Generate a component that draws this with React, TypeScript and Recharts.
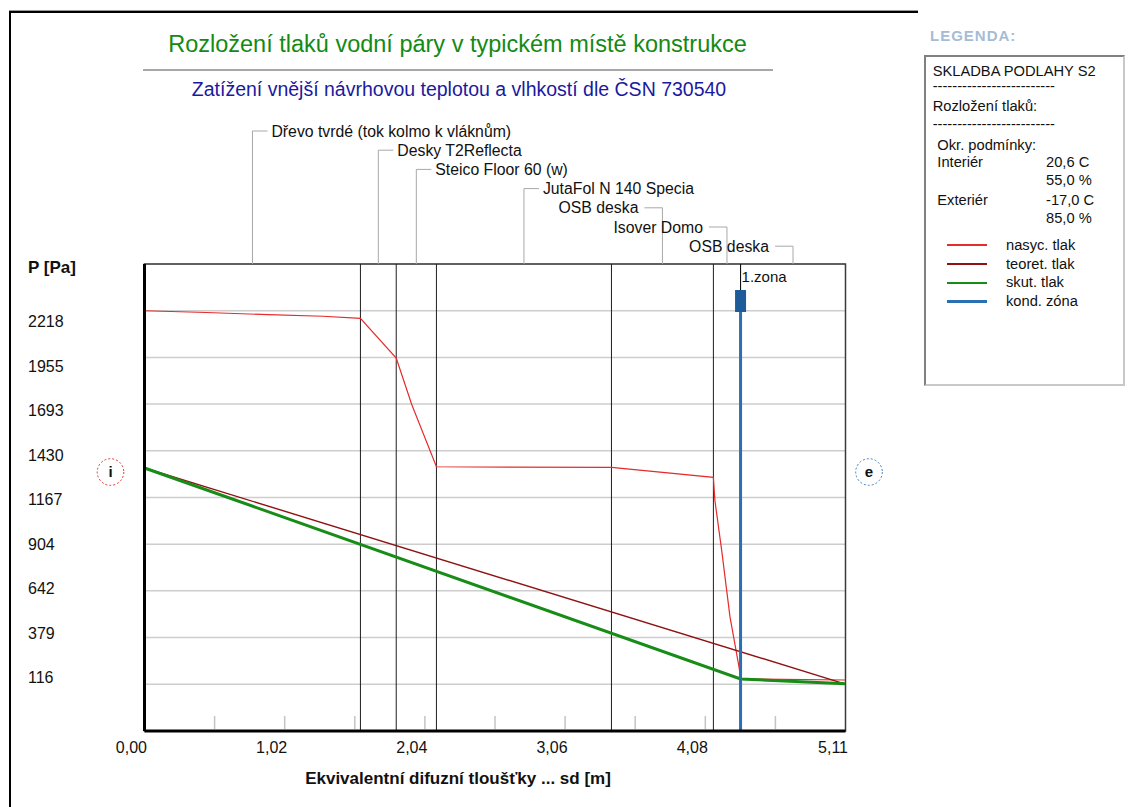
import React from 'react';
import {
  ComposedChart,
  Line,
  XAxis,
  YAxis,
  CartesianGrid,
  ReferenceLine,
  ReferenceArea,
  ReferenceDot,
} from 'recharts';

const FONT = '"Liberation Sans", Arial, sans-serif';

const RED = '#e52b2b';
const DARK_RED = '#8f1111';
const GREEN = '#178c17';
const BLUE = '#2b6fb3';

// layers of the construction, sd boundaries [m]
const layerNames = [
  'Dřevo tvrdé (tok kolmo k vláknům)',
  'Desky T2Reflecta',
  'Steico Floor 60 (w)',
  'JutaFol N 140 Specia',
  'OSB deska',
  'Isover Domo',
  'OSB deska',
];
const layerBounds = [0, 1.574, 1.835, 2.128, 3.404, 4.147, 4.345, 5.11];

// nasyc. tlak (saturation pressure)
const satX = [0, 0.45, 0.9, 1.3, 1.574, 1.835, 1.948, 2.128, 3.404, 4.147, 4.158, 4.207, 4.268, 4.335, 4.345, 5.11];
const satP = [2218, 2208, 2196, 2187, 2175, 1952, 1690, 1340, 1336, 1280, 1150, 872, 495, 208, 146, 140];

// teoret. tlak
const theoX = [0, 5.11];
const theoP = [1333, 117];

// skut. tlak
const realX = [0, 4.345, 5.11];
const realP = [1333, 146, 119];

const zoneX = 4.345;
const zoneLabel = '1.zona';

const yTicks = [116, 379, 642, 904, 1167, 1430, 1693, 1955, 2218];
const xTicks = [0, 0.511, 1.022, 1.533, 2.044, 2.555, 3.066, 3.577, 4.088, 4.599, 5.11];
const xTickLabels = ['0,00', '', '1,02', '', '2,04', '', '3,06', '', '4,08', '', '5,11'];

const conditions = [
  ['Interiér', '20,6 C', '55,0 %'],
  ['Exteriér', '-17,0 C', '85,0 %'],
];
const legendNames = ['nasyc. tlak', 'teoret. tlak', 'skut. tlak', 'kond. zóna'];
const legendColors = [RED, DARK_RED, GREEN, BLUE];

const toPoints = (xs: number[], ps: number[]) => xs.map((x, i) => ({ x, p: ps[i] }));
const satData = toPoints(satX, satP);
const theoData = toPoints(theoX, theoP);
const realData = toPoints(realX, realP);

const renderXTick = (props: any) => {
  const { x, y, payload } = props;
  const i = xTicks.indexOf(payload.value);
  const label = xTickLabels[i] || '';
  return (
    <g>
      {i > 0 && i < xTicks.length - 1 && (
        <line x1={x} y1={y - 2} x2={x} y2={y - 15} stroke="#c4c4c4" strokeWidth={1.5} />
      )}
      {label && (
        <text x={x + 2.5} y={y + 21.5} textAnchor="end" fontSize={16} fontFamily={FONT} fill="#111">
          {label}
        </text>
      )}
    </g>
  );
};

const renderYTick = (props: any) => {
  const { x, y, payload } = props;
  const k = (2218 - payload.value) / 262.75;
  const dy = 10.7 - 2.125 * k;
  return (
    <text x={x - 116.5} y={y + dy + 5.5} textAnchor="start" fontSize={16} fontFamily={FONT} fill="#111">
      {payload.value}
    </text>
  );
};

const layerShape = (i: number) => (props: any) => {
  const x = props.x1;
  const top = Math.min(props.y1, props.y2);
  const rowY = top - 133 + i * 19.2;
  const right = i < 4;
  const stubEnd = right ? x + 15 : x - 18;
  return (
    <g>
      <polyline
        points={`${x},${top} ${x},${rowY} ${stubEnd},${rowY}`}
        fill="none"
        stroke="#a8a8a8"
        strokeWidth={1}
      />
      <text
        x={right ? x + 19 : x - 24}
        y={rowY + 5.5}
        textAnchor={right ? 'start' : 'end'}
        fontSize={15.8}
        fontFamily={FONT}
        fill="#111"
      >
        {layerNames[i]}
      </text>
    </g>
  );
};

const zoneShape = (props: any) => {
  const x = props.x1;
  const top = Math.min(props.y1, props.y2);
  const bottom = Math.max(props.y1, props.y2);
  return (
    <g>
      <line x1={x} y1={top} x2={x} y2={top + 26} stroke="#111" strokeWidth={1} />
      <line x1={x} y1={top + 26} x2={x} y2={bottom} stroke={BLUE} strokeWidth={3} />
      <rect x={x - 5.5} y={top + 26} width={11} height={22} fill="#1d5c99" />
      <text x={x + 1} y={top + 17.5} fontSize={15} fontFamily={FONT} fill="#111">
        {zoneLabel}
      </text>
    </g>
  );
};

const sideMark = (letter: string, color: string, dx: number) => (props: any) => {
  const cx = props.cx + dx;
  const cy = props.cy + 4;
  return (
    <g>
      <circle cx={cx} cy={cy} r={13.3} fill="#fff" stroke={color} strokeWidth={1} strokeDasharray="2 2" />
      <text x={cx} y={cy + 5} textAnchor="middle" fontSize={15} fontWeight="bold" fontFamily={FONT} fill="#111">
        {letter}
      </text>
    </g>
  );
};

const T = ({ x, cy, size = 14.7, bold = false, color = '#111', children, spacing = 0 }: any) => (
  <div
    style={{
      position: 'absolute',
      left: x,
      top: cy - size / 2,
      fontSize: size,
      lineHeight: `${size}px`,
      fontWeight: bold ? 'bold' : 'normal',
      color,
      letterSpacing: spacing,
      whiteSpace: 'nowrap',
    }}
  >
    {children}
  </div>
);

const Centered = ({ cx, cy, size, bold = false, color, children }: any) => (
  <div
    style={{
      position: 'absolute',
      left: cx - 500,
      width: 1000,
      textAlign: 'center',
      top: cy - size / 2,
      fontSize: size,
      lineHeight: `${size}px`,
      fontWeight: bold ? 'bold' : 'normal',
      color,
      whiteSpace: 'nowrap',
    }}
  >
    {children}
  </div>
);

export default function App() {
  const dashes = '-'.repeat(25);
  return (
    <div style={{ position: 'relative', width: 1130, height: 807, background: '#fff', fontFamily: FONT, overflow: 'hidden' }}>
      <style>{'body{margin:0}'}</style>

      <div style={{ position: 'absolute', left: 0, top: 0 }}>
        <ComposedChart width={1130} height={807} margin={{ top: 264, right: 284.5, bottom: 0, left: 0 }}>
          <CartesianGrid vertical={false} stroke="#cdcdcd" strokeWidth={1.5} />
          <XAxis
            type="number"
            dataKey="x"
            domain={[0, 5.11]}
            ticks={xTicks}
            interval={0}
            allowDataOverflow
            tickLine={false}
            tickSize={0}
            tickMargin={0}
            height={76}
            axisLine={{ stroke: '#000', strokeWidth: 3 }}
            tick={renderXTick}
          />
          <YAxis
            type="number"
            domain={[-147, 2481]}
            ticks={yTicks}
            interval={0}
            allowDataOverflow
            tickLine={false}
            tickSize={0}
            tickMargin={0}
            width={144.5}
            axisLine={{ stroke: '#000', strokeWidth: 3 }}
            tick={renderYTick}
          />
          <ReferenceArea x1={0} x2={5.11} y1={-147} y2={2481} fill="none" stroke="#3a3a3a" strokeWidth={1.5} ifOverflow="visible" />
          {layerBounds.slice(1, -1).map((b, i) => (
            <ReferenceLine key={'b' + i} x={b} stroke="#1e1e1e" strokeWidth={1} />
          ))}
          {layerNames.map((n, i) => (
            <ReferenceLine
              key={'l' + i}
              x={(layerBounds[i] + layerBounds[i + 1]) / 2}
              ifOverflow="visible"
              shape={layerShape(i)}
            />
          ))}
          <Line data={satData} dataKey="p" type="linear" stroke={RED} strokeWidth={1.2} dot={false} isAnimationActive={false} />
          <Line data={theoData} dataKey="p" type="linear" stroke={DARK_RED} strokeWidth={1.4} dot={false} isAnimationActive={false} />
          <Line data={realData} dataKey="p" type="linear" stroke={GREEN} strokeWidth={3} dot={false} isAnimationActive={false} />
          <ReferenceLine x={zoneX} ifOverflow="visible" shape={zoneShape} />
          <ReferenceDot x={0} y={realP[0]} r={13} ifOverflow="visible" shape={sideMark('i', '#e03535', -34)} />
          <ReferenceDot x={5.11} y={realP[0]} r={13} ifOverflow="visible" shape={sideMark('e', '#3d82c4', 23.5)} />
        </ComposedChart>
      </div>

      {/* outer frame */}
      <div style={{ position: 'absolute', left: 9, top: 10, width: 909, height: 1, background: '#9a9a9a' }} />
      <div style={{ position: 'absolute', left: 9, top: 11, width: 909, height: 2, background: '#000' }} />
      <div style={{ position: 'absolute', left: 9, top: 11, width: 2, height: 796, background: '#000' }} />

      <Centered cx={457.5} cy={45} size={23.5} color="#138a13">
        Rozložení tlaků vodní páry v typickém místě konstrukce
      </Centered>
      <div style={{ position: 'absolute', left: 143, top: 69, width: 630, height: 2, background: '#a8a8a8' }} />
      <Centered cx={459} cy={89.5} size={19.5} color="#1a1aa0">
        Zatížení vnější návrhovou teplotou a vlhkostí dle ČSN 730540
      </Centered>

      <T x={28} cy={267.5} size={17} bold>P [Pa]</T>
      <Centered cx={458} cy={778} size={17} bold color="#111">
        Ekvivalentní difuzní tloušťky ... sd [m]
      </Centered>

      {/* legend panel */}
      <T x={930} cy={35} size={15} bold color="#a6bcd6" spacing={1}>LEGENDA:</T>
      <div
        style={{
          position: 'absolute',
          left: 924,
          top: 55,
          width: 197,
          height: 327,
          borderStyle: 'solid',
          borderWidth: 2,
          borderColor: '#808080 #c8c8c8 #c8c8c8 #808080',
        }}
      />
      <T x={932.7} cy={71.7}>SKLADBA PODLAHY S2</T>
      <T x={932.7} cy={86.7}>{dashes}</T>
      <T x={932.7} cy={106.7}>Rozložení tlaků:</T>
      <T x={932.7} cy={124}>{dashes}</T>
      <T x={937.3} cy={145}>Okr. podmínky:</T>
      {conditions.map((c, i) => (
        <React.Fragment key={c[0]}>
          <T x={937.3} cy={162.7 + i * 37.3}>{c[0]}</T>
          <T x={1046} cy={162.7 + i * 37.3}>{c[1]}</T>
          <T x={1046} cy={180.7 + i * 37.3}>{c[2]}</T>
        </React.Fragment>
      ))}
      {legendNames.map((n, i) => (
        <React.Fragment key={n}>
          <div
            style={{
              position: 'absolute',
              left: 947,
              top: 245 + i * 18.9 - 1.25,
              width: 40,
              height: 2.5,
              background: legendColors[i],
            }}
          />
          <T x={1006} cy={245 + i * 18.9}>{n}</T>
        </React.Fragment>
      ))}
    </div>
  );
}
